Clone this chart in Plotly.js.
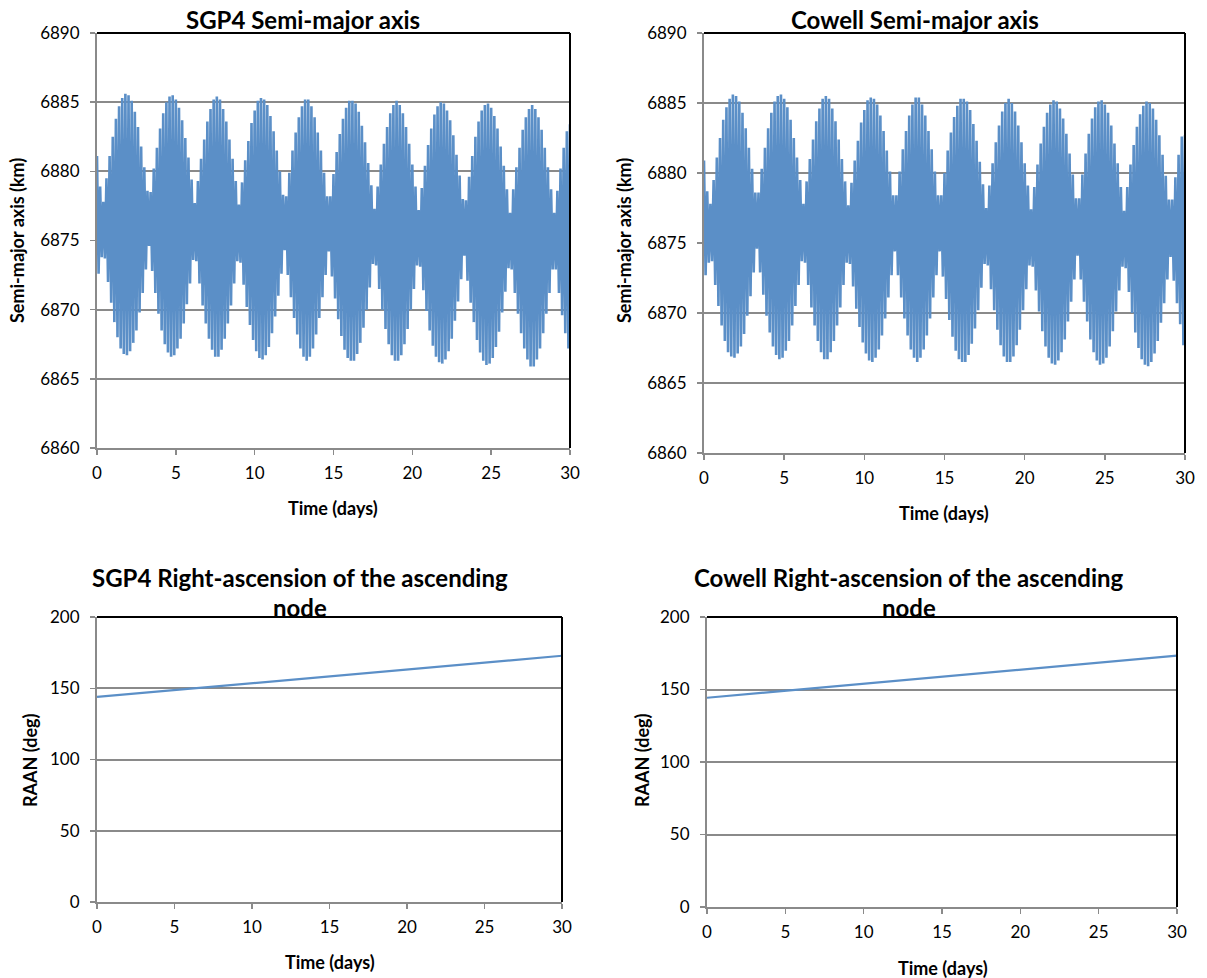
<!DOCTYPE html>
<html>
<head>
<meta charset="utf-8">
<script src="https://cdn.plot.ly/plotly-3.0.1.min.js"></script>
<style>
html,body{margin:0;padding:0;background:#fff;}
#chart{width:1207px;height:978px;}
</style>
</head>
<body>
<div id="chart"></div>
<script>
// ---- Data ----
// Semi-major axis samples (km), one sample every 0.1 day from day 0 to day 30
const smaSampleStartDay = 0;
const smaSampleStepDay = 0.1;

const sgp4SemiMajorAxis = [
6881.1, 6872.6, 6878.9, 6873.8,
6877.8, 6873.7, 6879.5, 6872.0, 6881.1, 6870.5, 6882.5, 6869.1, 6883.8, 6868.0, 6884.7, 6867.2, 6885.3, 6866.8, 6885.6, 6866.7, 6885.5, 6867.0, 6885.1, 6867.6, 6884.3, 6868.5, 6883.2, 6869.8, 6881.8, 6871.2, 6880.3, 6872.9, 6878.6, 6874.6,
6878.5, 6872.8, 6880.2, 6871.2, 6881.7, 6869.7, 6883.1, 6868.5, 6884.2, 6867.5, 6885.0, 6866.9, 6885.4, 6866.6, 6885.5, 6866.7, 6885.2, 6867.2, 6884.6, 6867.9, 6883.7, 6869.0, 6882.4, 6870.4, 6881.0, 6871.9, 6879.4, 6873.6, 6877.7,
6873.5, 6879.3, 6871.9, 6880.9, 6870.3, 6882.3, 6869.0, 6883.6, 6867.9, 6884.5, 6867.1, 6885.2, 6866.6, 6885.4, 6866.6, 6885.2, 6867.1, 6884.5, 6867.9, 6883.6, 6869.0, 6882.3, 6870.3, 6880.9, 6871.9, 6879.3, 6873.5, 6877.6,
6873.4, 6879.2, 6871.8, 6880.8, 6870.2, 6882.2, 6868.9, 6883.5, 6867.8, 6884.4, 6867.0, 6885.1, 6866.5, 6885.3, 6866.4, 6885.2, 6866.7, 6884.8, 6867.3, 6884.0, 6868.3, 6882.9, 6869.5, 6881.5, 6871.0, 6880.0, 6872.6, 6878.3, 6874.3,
6878.2, 6872.5, 6879.9, 6870.9, 6881.5, 6869.4, 6882.8, 6868.2, 6883.9, 6867.2, 6884.7, 6866.6, 6885.2, 6866.3, 6885.2, 6866.6, 6884.7, 6867.2, 6883.9, 6868.2, 6882.8, 6869.4, 6881.5, 6870.9, 6879.9, 6872.5, 6878.2, 6874.2,
6878.2, 6872.4, 6879.8, 6870.8, 6881.4, 6869.3, 6882.7, 6868.1, 6883.8, 6867.1, 6884.6, 6866.5, 6885.1, 6866.3, 6885.1, 6866.3, 6884.9, 6866.8, 6884.3, 6867.6, 6883.3, 6868.7, 6882.1, 6870.0, 6880.6, 6871.6, 6879.0, 6873.3, 6877.3,
6873.2, 6878.9, 6871.5, 6880.5, 6870.0, 6882.0, 6868.6, 6883.2, 6867.5, 6884.2, 6866.7, 6884.8, 6866.3, 6885.1, 6866.3, 6884.8, 6866.7, 6884.2, 6867.5, 6883.2, 6868.6, 6882.0, 6870.0, 6880.5, 6871.5, 6878.9, 6873.2, 6877.2,
6873.1, 6878.8, 6871.4, 6880.4, 6869.9, 6881.9, 6868.5, 6883.1, 6867.4, 6884.1, 6866.6, 6884.7, 6866.2, 6885.0, 6866.1, 6884.9, 6866.4, 6884.4, 6867.0, 6883.7, 6867.9, 6882.6, 6869.2, 6881.2, 6870.6, 6879.7, 6872.2, 6878.0, 6873.9,
6877.9, 6872.1, 6879.6, 6870.5, 6881.1, 6869.1, 6882.5, 6867.8, 6883.6, 6866.9, 6884.4, 6866.3, 6884.8, 6866.0, 6884.9, 6866.1, 6884.6, 6866.5, 6884.0, 6867.3, 6883.1, 6868.4, 6881.8, 6869.8, 6880.4, 6871.3, 6878.7, 6873.0, 6877.0,
6872.9, 6878.7, 6871.2, 6880.3, 6869.7, 6881.7, 6868.3, 6883.0, 6867.2, 6883.9, 6866.4, 6884.5, 6865.9, 6884.8, 6865.9, 6884.5, 6866.4, 6883.9, 6867.2, 6883.0, 6868.3, 6881.7, 6869.7, 6880.3, 6871.2, 6878.7, 6872.9, 6877.0,
6872.9, 6878.6, 6871.2, 6880.2, 6869.6, 6881.7, 6868.3, 6882.9, 6867.2, 6883.4
];

const cowellSemiMajorAxis = [
6880.9, 6872.7, 6878.7, 6873.6,
6877.8, 6873.7, 6879.5, 6872.0, 6881.1, 6870.5, 6882.5, 6869.1, 6883.8, 6868.0, 6884.7, 6867.2, 6885.3, 6866.9, 6885.6, 6866.8, 6885.5, 6867.1, 6885.1, 6867.6, 6884.3, 6868.5, 6883.2, 6869.8, 6881.8, 6871.2, 6880.3, 6872.9, 6878.6, 6874.6,
6878.6, 6872.9, 6880.3, 6871.3, 6881.8, 6869.8, 6883.2, 6868.6, 6884.3, 6867.6, 6885.1, 6867.0, 6885.5, 6866.7, 6885.6, 6866.8, 6885.3, 6867.3, 6884.7, 6868.0, 6883.8, 6869.1, 6882.5, 6870.5, 6881.1, 6872.0, 6879.5, 6873.7, 6877.8,
6873.6, 6879.4, 6872.0, 6881.0, 6870.4, 6882.4, 6869.1, 6883.7, 6868.0, 6884.6, 6867.2, 6885.3, 6866.7, 6885.5, 6866.7, 6885.3, 6867.2, 6884.6, 6868.0, 6883.7, 6869.1, 6882.4, 6870.4, 6881.0, 6872.0, 6879.4, 6873.6, 6877.7,
6873.5, 6879.3, 6871.9, 6880.9, 6870.3, 6882.3, 6869.0, 6883.6, 6867.9, 6884.5, 6867.1, 6885.2, 6866.6, 6885.4, 6866.5, 6885.3, 6866.8, 6884.9, 6867.4, 6884.1, 6868.4, 6883.0, 6869.6, 6881.6, 6871.1, 6880.1, 6872.7, 6878.4, 6874.4,
6878.4, 6872.7, 6880.1, 6871.1, 6881.7, 6869.6, 6883.0, 6868.4, 6884.1, 6867.4, 6884.9, 6866.8, 6885.4, 6866.5, 6885.4, 6866.8, 6884.9, 6867.4, 6884.1, 6868.4, 6883.0, 6869.6, 6881.7, 6871.1, 6880.1, 6872.7, 6878.4, 6874.4,
6878.4, 6872.6, 6880.0, 6871.0, 6881.6, 6869.5, 6882.9, 6868.3, 6884.0, 6867.3, 6884.8, 6866.7, 6885.3, 6866.5, 6885.3, 6866.5, 6885.1, 6867.0, 6884.5, 6867.8, 6883.5, 6868.9, 6882.3, 6870.2, 6880.8, 6871.8, 6879.2, 6873.5, 6877.5,
6873.4, 6879.1, 6871.7, 6880.7, 6870.2, 6882.2, 6868.8, 6883.4, 6867.7, 6884.4, 6866.9, 6885.0, 6866.5, 6885.3, 6866.5, 6885.0, 6866.9, 6884.4, 6867.7, 6883.4, 6868.8, 6882.2, 6870.2, 6880.7, 6871.7, 6879.1, 6873.4, 6877.4,
6873.3, 6879.0, 6871.6, 6880.6, 6870.1, 6882.1, 6868.7, 6883.3, 6867.6, 6884.3, 6866.8, 6884.9, 6866.4, 6885.2, 6866.3, 6885.1, 6866.6, 6884.6, 6867.2, 6883.9, 6868.1, 6882.8, 6869.4, 6881.4, 6870.8, 6879.9, 6872.4, 6878.2, 6874.1,
6878.2, 6872.4, 6879.9, 6870.8, 6881.4, 6869.4, 6882.8, 6868.1, 6883.9, 6867.2, 6884.7, 6866.6, 6885.1, 6866.3, 6885.2, 6866.4, 6884.9, 6866.8, 6884.3, 6867.6, 6883.4, 6868.7, 6882.1, 6870.1, 6880.7, 6871.6, 6879.0, 6873.3, 6877.3,
6873.2, 6879.0, 6871.5, 6880.6, 6870.0, 6882.0, 6868.6, 6883.3, 6867.5, 6884.2, 6866.7, 6884.8, 6866.3, 6885.1, 6866.2, 6885.0, 6866.5, 6884.6, 6867.1, 6883.8, 6868.0, 6882.7, 6869.3, 6881.3, 6870.7, 6879.8, 6872.4, 6878.1, 6874.0,
6878.1, 6872.3, 6879.7, 6870.7, 6881.3, 6869.2, 6882.6, 6867.7, 6882.7
];

// RAAN (deg)
const raanTimeDays = [0, 5, 10, 15, 20, 25, 30];
const sgp4Raan = [143.9, 148.7, 153.5, 158.3, 163.1, 168.0, 172.8];
const cowellRaan = [144.3, 149.1, 154.0, 158.8, 163.6, 168.5, 173.3];

// Tick values
const timeTicks = [0, 5, 10, 15, 20, 25, 30];
const smaTicks = [6860, 6865, 6870, 6875, 6880, 6885, 6890];
const raanTicks = [0, 50, 100, 150, 200];

// Titles
const chartTitles = ["SGP4 Semi-major axis", "Cowell Semi-major axis",
  "SGP4 Right-ascension of the ascending", "Cowell Right-ascension of the ascending"];
const titleSecondLine = "node";
const xAxisTitle = "Time (days)";
const smaAxisTitle = "Semi-major axis (km)";
const raanAxisTitle = "RAAN (deg)";

// ---- Build ----
const smaTime = sgp4SemiMajorAxis.map((_, i) => +(smaSampleStartDay + i * smaSampleStepDay).toFixed(2));

const W = 1207, H = 978;
const px = v => v / W;
const py = v => 1 - v / H;

const lineColor = "rgb(91,143,199)";
const gridColor = "#8a8a8a";
const FONT = "Lato, 'Open Sans', sans-serif";

const traces = [
  {x: smaTime, y: sgp4SemiMajorAxis, xaxis: "x", yaxis: "y", type: "scatter", mode: "lines",
   line: {color: lineColor, width: 2.6}},
  {x: smaTime, y: cowellSemiMajorAxis, xaxis: "x2", yaxis: "y2", type: "scatter", mode: "lines",
   line: {color: lineColor, width: 2.6}},
  {x: raanTimeDays, y: sgp4Raan, xaxis: "x3", yaxis: "y3", type: "scatter", mode: "lines",
   line: {color: lineColor, width: 2.2}},
  {x: raanTimeDays, y: cowellRaan, xaxis: "x4", yaxis: "y4", type: "scatter", mode: "lines",
   line: {color: lineColor, width: 2.2}}
];

function xAx(dom, anchor) {
  return {domain: dom, anchor: anchor, range: [0, 30], tickvals: timeTicks,
    showgrid: false, zeroline: false, showline: true, linecolor: gridColor, linewidth: 2,
    ticks: "outside", ticklen: 5, tickwidth: 1.5, tickcolor: gridColor,
    ticklabelstandoff: 4,
    tickfont: {family: FONT, size: 17, color: "#000"}, fixedrange: true};
}
function yAx(dom, anchor, range, vals) {
  return {domain: dom, anchor: anchor, range: range, tickvals: vals,
    showgrid: true, gridcolor: gridColor, gridwidth: 2, zeroline: false,
    showline: true, linecolor: gridColor, linewidth: 2,
    ticks: "outside", ticklen: 5, tickwidth: 1.5, tickcolor: gridColor,
    ticklabelstandoff: 7,
    tickfont: {family: FONT, size: 17, color: "#000"}, fixedrange: true};
}

const boxes = [
  {xa: "x", ya: "y"}, {xa: "x2", ya: "y2"}, {xa: "x3", ya: "y3"}, {xa: "x4", ya: "y4"}
];
const shapes = [];
boxes.forEach(b => {
  shapes.push({type: "line", xref: b.xa + " domain", yref: b.ya + " domain", x0: 0, x1: 1, y0: 1, y1: 1,
    line: {color: "#000", width: 2}, layer: "above"});
  shapes.push({type: "line", xref: b.xa + " domain", yref: b.ya + " domain", x0: 1, x1: 1, y0: 0, y1: 1,
    line: {color: "#000", width: 2}, layer: "above"});
});

function ann(text, x, y, size, bold, angle) {
  return {text: bold ? "<b>" + text + "</b>" : text, x: px(x), y: py(y), xref: "paper", yref: "paper",
    xanchor: "center", yanchor: "middle", showarrow: false, textangle: angle || 0,
    font: {family: FONT, size: size, color: "#000"}};
}

const annotations = [
  ann(chartTitles[0], 303, 20, 24, true),
  ann(chartTitles[1], 915, 20, 24, true),
  ann(chartTitles[2], 300, 577, 24, true),
  ann(titleSecondLine, 300, 607, 24, true),
  ann(chartTitles[3], 909, 577, 24, true),
  ann(titleSecondLine, 909, 607, 24, true),
  ann(xAxisTitle, 333, 508, 18, true),
  ann(xAxisTitle, 944, 513, 18, true),
  ann(xAxisTitle, 330, 962, 18, true),
  ann(xAxisTitle, 943, 968, 18, true),
  ann(smaAxisTitle, 17, 241, 18, true, -90),
  ann(smaAxisTitle, 624, 241, 18, true, -90),
  ann(raanAxisTitle, 30, 760, 18, true, -90),
  ann(raanAxisTitle, 642, 760, 18, true, -90)
];

const layout = {
  width: W, height: H, margin: {l: 0, r: 0, t: 0, b: 0},
  paper_bgcolor: "#fff", plot_bgcolor: "#fff", showlegend: false,
  font: {family: FONT, color: "#000"},
  xaxis: xAx([px(97), px(570)], "y"),
  yaxis: yAx([py(448), py(33)], "x", [6860, 6890], smaTicks),
  xaxis2: xAx([px(704), px(1185)], "y2"),
  yaxis2: yAx([py(453), py(33)], "x2", [6860, 6890], smaTicks),
  xaxis3: xAx([px(97), px(562)], "y3"),
  yaxis3: yAx([py(902), py(617)], "x3", [0, 200], raanTicks),
  xaxis4: xAx([px(707), px(1177)], "y4"),
  yaxis4: yAx([py(907), py(617)], "x4", [0, 200], raanTicks),
  shapes: shapes,
  annotations: annotations
};

Plotly.newPlot("chart", traces, layout, {displayModeBar: false, staticPlot: true});
</script>
</body>
</html>
